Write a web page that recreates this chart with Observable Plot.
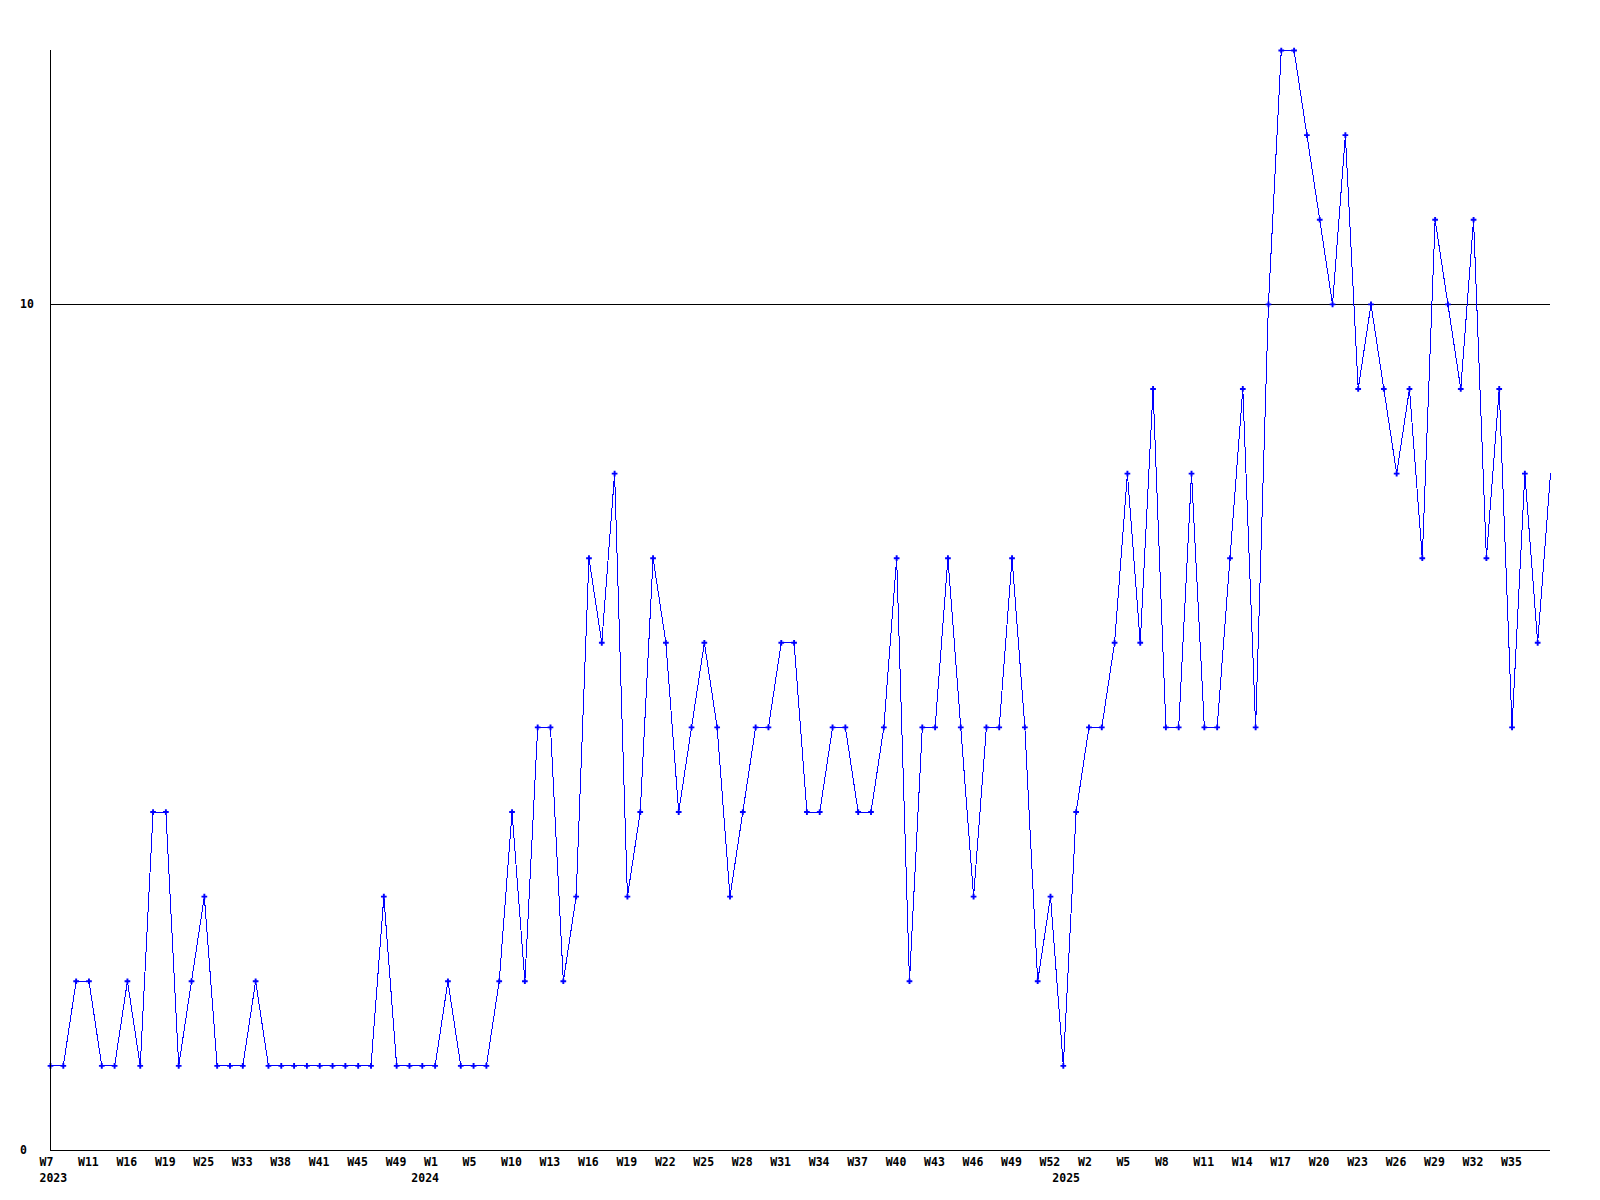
<!DOCTYPE html>
<html><head><meta charset="utf-8">
<script src="https://cdn.jsdelivr.net/npm/d3@7"></script>
<script src="https://cdn.jsdelivr.net/npm/@observablehq/plot@0.6"></script>
<style>html,body{margin:0;padding:0;background:#fff;overflow:hidden}svg{display:block}</style>
</head><body><div id="chart"></div>
<script>
// Categories: one per week that has data (ordinal x axis)
const years = [
  2023,2023,2023,2023,2023,2023,2023,2023,2023,2023,2023,2023,2023,2023,2023,2023,2023,2023,2023,2023,2023,2023,2023,2023,2023,2023,2023,2023,2023,
  2024,2024,2024,2024,2024,2024,2024,2024,2024,2024,2024,2024,2024,2024,2024,2024,2024,2024,2024,2024,2024,2024,2024,2024,2024,2024,2024,2024,2024,2024,
  2024,2024,2024,2024,2024,2024,2024,2024,2024,2024,2024,2024,2024,2024,2024,2024,2024,2024,2024,2024,
  2025,2025,2025,2025,2025,2025,2025,2025,2025,2025,2025,2025,2025,2025,2025,2025,2025,2025,2025,2025,
  2025,2025,2025,2025,2025,2025,2025,2025,2025,2025,2025,2025,2025,2025,2025,2025,2025,2025,2025
];
const weeks = [
  7,8,10,11,13,14,16,17,18,19,21,23,25,28,30,33,35,36,38,39,40,41,42,44,45,46,48,49,51,
  0,1,2,3,5,7,8,10,11,12,13,14,15,16,17,18,19,20,21,22,23,24,25,26,27,28,29,30,31,32,
  33,34,35,36,37,38,39,40,41,42,43,44,45,46,47,48,49,50,51,52,
  0,1,2,3,4,5,6,7,8,9,10,11,12,13,14,15,16,17,18,19,
  20,21,22,23,24,25,26,27,28,29,30,31,32,33,34,35,36,37,38
];
const counts = [
  1,1,2,2,1,1,2,1,4,4, 1,2,3,1,1,1,2,1,1,1, 1,1,1,1,1,1,3,1,1,1, 1,2,1,1,1,2,4,2,
  5,5,2,3,7,6,8,3,4,7, 6,4,5,6,5,3,4,5,5,6, 6,4,4,5,5,4,4,5,7,2, 5,5,7,5,3,5,5,7,5,2,
  3,1,4,5,5,6,8,6,9,5, 5,8,5,5,7,9,5,10,13,13, 12,11,10,12,9,10,9,8,9,7, 11,10,9,11,7,9,5,8,6,8
];
const yTicks = [0, 10];
const gridValues = [10];

const keys = years.map((y, i) => `${y}-W${weeks[i]}`);
const data = keys.map((k, i) => ({key: k, year: years[i], week: weeks[i], count: counts[i]}));
const byKey = new Map(data.map(d => [d.key, d]));
const weekTicks = keys.filter((k, i) => i % 3 === 0 && i < keys.length - 1);
const yearTicks = keys.filter((k, i) => i === 0 || years[i] !== years[i - 1]);
const font = "'DejaVu Sans Mono', 'Liberation Mono', monospace";

const chart = Plot.plot({
  width: 1600, height: 1200,
  marginLeft: 50, marginRight: 50, marginTop: 50, marginBottom: 50,
  style: {fontFamily: font, fontSize: "11.5px", fontWeight: "bold", background: "#fff", color: "#000"},
  x: {type: "point", domain: keys, padding: 0, label: null},
  y: {domain: [0, 13], label: null},
  marks: [
    Plot.ruleY(gridValues, {stroke: "#000", strokeWidth: 1, shapeRendering: "crispEdges"}),
    Plot.line(data, {x: "key", y: "count", stroke: "#0000ff", strokeWidth: 1, shapeRendering: "crispEdges"}),
    Plot.dot(data.slice(0, data.length - 1), {x: "key", y: "count", symbol: "cross", r: 2.4, fill: "#0000ff", stroke: null}),
    Plot.axisX({ticks: weekTicks, tickFormat: k => "W" + byKey.get(k).week, tickSize: 0, tickPadding: 7.5, textAnchor: "start", dx: -11, label: null}),
    Plot.axisX({ticks: yearTicks, tickFormat: k => String(byKey.get(k).year), tickSize: 0, tickPadding: 23, textAnchor: "start", dx: -11, label: null}),
    Plot.axisY({ticks: yTicks, tickSize: 0, tickPadding: 16, textAnchor: "start", dx: -14.5, label: null}),
    Plot.ruleY([0], {stroke: "#000", strokeWidth: 1, shapeRendering: "crispEdges"}),
    Plot.frame({anchor: "left", stroke: "#000", strokeWidth: 1, shapeRendering: "crispEdges"})
  ]
});
document.getElementById("chart").appendChild(chart);
</script>
</body></html>
